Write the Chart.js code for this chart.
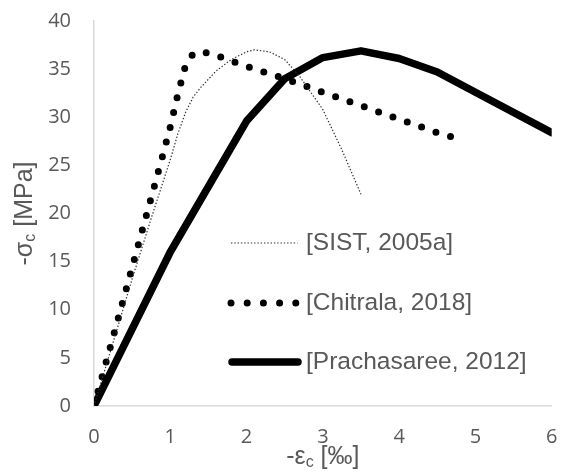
<!DOCTYPE html>
<html>
<head>
<meta charset="utf-8">
<script src="https://cdn.jsdelivr.net/npm/chart.js@4/dist/chart.umd.min.js"></script>
<style>
  html, body { margin: 0; padding: 0; background: #ffffff; }
  #wrap { width: 568px; height: 475px; position: relative; }
</style>
</head>
<body>
<div id="wrap"><canvas id="stressChart"></canvas></div>
<script>
// Stress-strain curves of concrete, strain in permille, stress in MPa

const sistStrain = [0, 0.5, 0.75, 1.0, 1.1, 1.2, 1.3, 1.4, 1.6, 1.8, 2.0, 2.1, 2.3, 2.5, 2.7, 3.0, 3.25, 3.5];
const sistStress = [0, 13.2, 19.5, 25.6, 28.3, 30.5, 32.1, 33.1, 34.8, 36.0, 36.8, 37.0, 36.8, 36.0, 34.2, 30.8, 26.6, 22.0];

const chitralaStrain = [0, 0.3, 0.6, 0.9, 1.0, 1.1, 1.2, 1.3, 1.4, 1.55, 1.75, 2.0, 2.5, 3.0, 3.5, 4.0, 4.5, 4.72];
const chitralaStress = [0, 8.6, 17.3, 26.0, 29.0, 32.4, 35.4, 36.6, 36.8, 36.6, 36.0, 35.3, 34.0, 32.6, 31.2, 29.8, 28.4, 27.9];

const prachaStrain = [0, 1.0, 2.0, 2.5, 3.0, 3.5, 4.0, 4.5, 5.0, 6.0];
const prachaStress = [0, 16.0, 29.6, 34.0, 36.2, 36.9, 36.1, 34.7, 32.6, 28.4];

const seriesLabels = ["[SIST, 2005a]", "[Chitrala, 2018]", "[Prachasaree, 2012]"];

const xTicks = [0, 1, 2, 3, 4, 5, 6];
const yTicks = [0, 5, 10, 15, 20, 25, 30, 35, 40];

function toPoints(xs, ys) {
  return xs.map((x, i) => ({ x: x, y: ys[i] }));
}

const textGrey = "#595959";

// draw text with a subscript part, centred on (cx, cy)
function drawParts(ctx, parts, cx, cy) {
  const mainFont = '25px "Liberation Sans", Arial, sans-serif';
  const subFont = '16px "Liberation Sans", Arial, sans-serif';
  let total = 0;
  parts.forEach(p => {
    ctx.font = p.sub ? subFont : mainFont;
    total += ctx.measureText(p.t).width;
  });
  let x = cx - total / 2;
  parts.forEach(p => {
    ctx.font = p.sub ? subFont : mainFont;
    ctx.fillText(p.t, x, p.sub ? cy + 6 : cy);
    x += ctx.measureText(p.t).width;
  });
}

const axisTitles = {
  id: "axisTitles",
  afterDraw(chart) {
    const ctx = chart.ctx;
    const area = chart.chartArea;
    ctx.save();
    ctx.fillStyle = textGrey;
    ctx.textBaseline = "middle";
    ctx.textAlign = "left";
    drawParts(ctx, [{ t: "-ε" }, { t: "c", sub: true }, { t: " [‰]" }], (area.left + area.right) / 2, 457);
    ctx.translate(25, (area.top + area.bottom) / 2);
    ctx.rotate(-Math.PI / 2);
    drawParts(ctx, [{ t: "-σ" }, { t: "c", sub: true }, { t: " [MPa]" }], 0, 0);
    ctx.restore();
  }
};

// legend sits inside the plot, like in the excel original
const insideLegend = {
  id: "insideLegend",
  afterDraw(chart) {
    const ctx = chart.ctx;
    const rows = [243, 303, 362];
    ctx.save();
    chart.data.datasets.forEach((ds, i) => {
      const y = rows[i];
      ctx.beginPath();
      ctx.strokeStyle = ds.borderColor;
      ctx.lineWidth = ds.borderWidth;
      ctx.lineCap = ds.borderCapStyle || "butt";
      if (i === 1) ctx.setLineDash([0, 16.2]);
      else ctx.setLineDash(ds.borderDash || []);
      if (i === 2) { ctx.moveTo(232, y); ctx.lineTo(298, y); }
      else { ctx.moveTo(231, y); ctx.lineTo(297.5, y); }
      ctx.stroke();
      ctx.setLineDash([]);
      ctx.fillStyle = textGrey;
      ctx.font = '24.5px "Liberation Sans", Arial, sans-serif';
      ctx.textBaseline = "middle";
      ctx.textAlign = "left";
      ctx.fillText(ds.label, 306, y);
    });
    ctx.restore();
  }
};

const ctx = document.getElementById("stressChart").getContext("2d");
const stressChart = new Chart(ctx, {
  type: "line",
  data: {
    datasets: [
      {
        label: seriesLabels[0],
        data: toPoints(sistStrain, sistStress),
        borderColor: "#303030",
        borderWidth: 1.2,
        borderDash: [1.4, 1.9],
        pointRadius: 0,
        tension: 0,
      },
      {
        label: seriesLabels[1],
        data: toPoints(chitralaStrain, chitralaStress),
        borderColor: "#000000",
        borderWidth: 7,
        borderDash: [0, 15.2],
        borderCapStyle: "round",
        borderJoinStyle: "round",
        pointRadius: 0,
        tension: 0,
      },
      {
        label: seriesLabels[2],
        data: toPoints(prachaStrain, prachaStress),
        borderColor: "#000000",
        borderWidth: 7.5,
        borderCapStyle: "round",
        borderJoinStyle: "round",
        pointRadius: 0,
        tension: 0,
      },
    ],
  },
  options: {
    responsive: true,
    maintainAspectRatio: false,
    animation: false,
    layout: {
      padding: { top: 21, right: 16.3, left: 0, bottom: 0 },
    },
    plugins: {
      legend: { display: false },
      tooltip: { enabled: false },
      title: { display: false },
    },
    scales: {
      x: {
        type: "linear",
        min: 0,
        max: 6,
        afterFit(scale) { scale.height = 69; },
        afterBuildTicks(scale) { scale.ticks = xTicks.map(v => ({ value: v })); },
        grid: { display: false, drawTicks: true, tickLength: 16 },
        border: { display: true, color: "#d9d9d9", width: 1.5 },
        ticks: {
          padding: 3,
          color: textGrey,
          maxRotation: 0,
          autoSkip: false,
          font: { family: "'Open Sans', sans-serif", size: 20 },
        },
      },
      y: {
        min: 0,
        max: 40,
        afterFit(scale) { scale.width = 94; },
        afterBuildTicks(scale) { scale.ticks = yTicks.map(v => ({ value: v })); },
        grid: { display: false, drawTicks: true, tickLength: 20 },
        border: { display: true, color: "#d9d9d9", width: 1.5 },
        ticks: {
          padding: 3,
          color: textGrey,
          autoSkip: false,
          font: { family: "'Open Sans', sans-serif", size: 20 },
        },
      },
    },
  },
  plugins: [axisTitles, insideLegend],
});
</script>
</body>
</html>
